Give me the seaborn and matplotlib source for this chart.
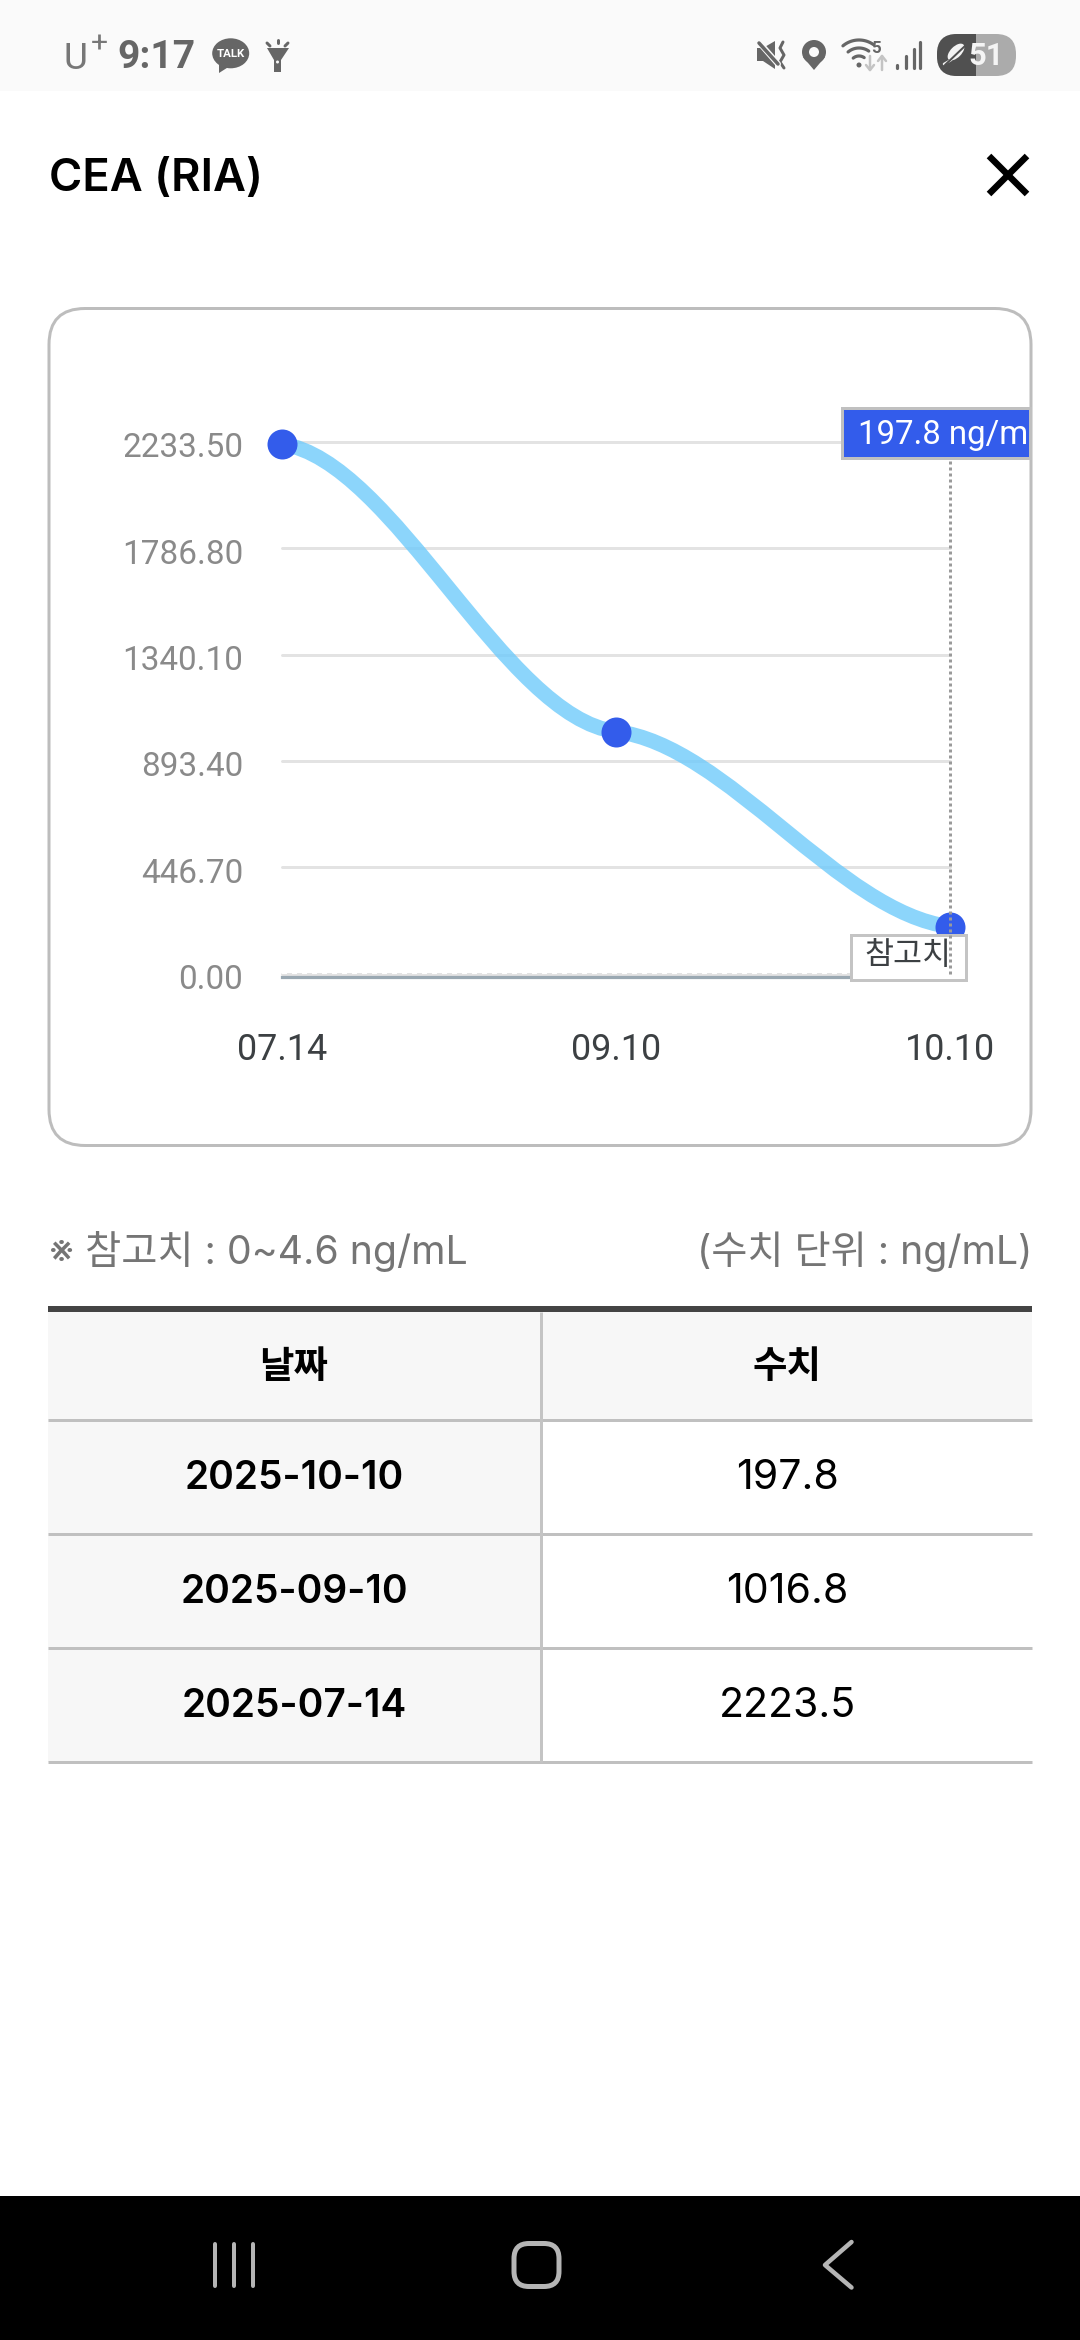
import numpy as np
import pandas as pd
import matplotlib
matplotlib.use('Agg')
import matplotlib.pyplot as plt
import seaborn as sns
from matplotlib.patches import Rectangle, FancyBboxPatch, Ellipse, Polygon, Circle, PathPatch
from matplotlib.path import Path
from matplotlib.transforms import ScaledTranslation

# chart values
dates = ['07.14', '09.10', '10.10']
values = [2223.5, 1016.8, 197.8]
y_ticks = [0.00, 446.70, 893.40, 1340.10, 1786.80, 2233.50]
ref_low = 0
ref_high = 4.6
spline_slopes = [-200, -170, -180]  # value per step at each point

# table
table_header = ['날짜', '수치']
table_dates = ['2025-10-10', '2025-09-10', '2025-07-14']
table_values = ['197.8', '1016.8', '2223.5']

tooltip_text = '197.8 ng/m'
ref_label = '참고치'
note_left = '※ 참고치 : 0~4.6 ng/mL'
note_right = '(수치 단위 : ng/mL)'
title = 'CEA (RIA)'

sns.set_theme(style='white')
plt.rcParams['font.family'] = ['Inter', 'Noto Sans CJK KR', 'DejaVu Sans']
ROBOTO = ['Roboto', 'Noto Sans CJK KR', 'DejaVu Sans']
PX = 0.72

fig = plt.figure(figsize=(10.8, 23.4), dpi=100, facecolor='white')

# page layer, in pixels
ui = fig.add_axes([0, 0, 1, 1], zorder=0)
ui.set_xlim(0, 1080)
ui.set_ylim(2340, 0)
ui.axis('off')


def text(x, y, s, px, color='#000000', weight='normal', ha='left', va='baseline', family=None, zorder=5):
    kw = {'family': family} if family else {}
    return ui.text(x, y, s, fontsize=px * PX, color=color, fontweight=weight, ha=ha, va=va, zorder=zorder, **kw)


def rect(x0, y0, x1, y1, color, zorder=1):
    ui.add_patch(Rectangle((x0, y0), x1 - x0, y1 - y0, facecolor=color, edgecolor='none', zorder=zorder))


def stroke(xs, ys, color, px, cap='round', zorder=3):
    ui.plot(xs, ys, color=color, lw=px * PX, solid_capstyle=cap, solid_joinstyle='round', zorder=zorder)


def arc(cx, cy, r, a0, a1, color, px):
    t = np.radians(np.linspace(a0, a1, 30))
    stroke(cx + r * np.cos(t), cy - r * np.sin(t), color, px)


# status bar
rect(0, 0, 1080, 91, '#fafafa')
GREY = '#666666'
text(64, 69, 'U', 37, '#777777', family=ROBOTO)
text(91, 53, '+', 30, '#777777', family=ROBOTO)
text(117, 68, '9:17', 39, GREY, weight='bold', family=ROBOTO)
ui.add_patch(Ellipse((230.7, 53.3), 37, 30, color=GREY, lw=0, zorder=3))
ui.add_patch(Polygon([(219, 62), (219, 73), (230, 66)], color=GREY, lw=0, zorder=3))
text(230.7, 53.8, 'TALK', 11.5, 'white', weight='bold', ha='center', va='center', family=ROBOTO)
# flashlight
ui.add_patch(Polygon([(267, 48), (289, 48), (281, 60), (281, 72), (274, 72), (274, 60)], color=GREY, lw=0, zorder=3))
ui.add_patch(Circle((277.5, 62), 1.5, color='#fafafa', lw=0, zorder=4))
stroke([277.5, 277.5], [40, 43], GREY, 3)
stroke([267, 270], [43, 46], GREY, 3)
stroke([288, 285], [43, 46], GREY, 3)
# mute
ui.add_patch(Polygon([(757, 48), (763, 48), (775, 41), (775, 69), (763, 61), (757, 61)], color=GREY, lw=0, zorder=3))
stroke([757, 778], [40, 64], '#fafafa', 6, zorder=3.5)
stroke([759, 778], [43, 64], GREY, 3.5, zorder=3.6)
stroke([783, 780, 784, 780, 784], [42, 48, 55, 62, 68], GREY, 3)
# pin
ui.add_patch(Circle((814, 52), 12, color=GREY, lw=0, zorder=3))
ui.add_patch(Polygon([(803, 57), (825, 57), (814, 70)], color=GREY, lw=0, zorder=3))
ui.add_patch(Circle((814, 52), 5, color='#fafafa', lw=0, zorder=4))
# wifi
for r in [9, 17, 25]:
    arc(859, 65, r, 55, 130, GREY, 3.2)
ui.add_patch(Circle((859, 65), 2.5, color=GREY, lw=0, zorder=3))
text(871, 53, '5', 17, GREY, weight='bold', family=ROBOTO)
stroke([870, 870], [56, 70], '#c4c4c4', 2.5)
stroke([866, 870, 874], [65, 70, 65], '#c4c4c4', 2.5)
stroke([882, 882], [56, 70], '#c4c4c4', 2.5)
stroke([878, 882, 886], [61, 56, 61], '#c4c4c4', 2.5)
# signal
for x, top in zip([897, 905.5, 913.5, 920], [65, 56, 49, 42]):
    stroke([x, x], [top, 68], GREY, 3.2)
# battery
ui.add_patch(FancyBboxPatch((937 + 20, 34 + 20), 79 - 40, 42 - 40, boxstyle='round,pad=20', facecolor='#ababab', edgecolor='none', zorder=3))
dark = FancyBboxPatch((937 + 20, 34 + 20), 79 - 40, 42 - 40, boxstyle='round,pad=20', facecolor='#505050', edgecolor='none', zorder=3.1)
ui.add_patch(dark)
dark.set_clip_path(Rectangle((930, 30), 46, 50, transform=ui.transData))
ui.add_patch(Ellipse((956, 52), 21, 11, angle=-45, color='#f2f2f2', lw=0, zorder=4))
stroke([945, 966], [65, 45], '#505050', 2, zorder=4.2)
stroke([944, 951], [64, 60], '#f2f2f2', 2.5, zorder=4.1)
text(986, 65, '51', 31, '#f4f4f4', weight='bold', ha='center', family=ROBOTO)

# header
text(49, 191, title, 45.3, '#000000', weight='semibold')
stroke([989, 1027], [156, 194], 'black', 6.5, cap='butt')
stroke([1027, 989], [156, 194], 'black', 6.5, cap='butt')

# card
ui.add_patch(FancyBboxPatch((49 + 36, 308.5 + 36), 982 - 72, 837 - 72, boxstyle='round,pad=36', facecolor='white', edgecolor='#bdbdbd', lw=3 * PX, zorder=1))

# chart: pixel box of the plot area, scales come from the data
X0, X1, Y_TOP, Y_ZERO = 282, 950, 441.7, 973.7
ax = fig.add_axes([X0 / 1080, 1 - Y_ZERO / 2340, (X1 - X0) / 1080, (Y_ZERO - Y_TOP) / 2340], zorder=1)
ax.patch.set_alpha(0)

df = pd.DataFrame({'date': dates, 'value': values})
sns.lineplot(x=dates, y=[ref_low] * 3, color='#e3e3e3', lw=3 * PX, ax=ax, zorder=1.5)
ref_line = sns.lineplot(x=dates, y=[ref_high] * 3, color='white', lw=2 * PX, ax=ax, zorder=1.6).lines[-1]
ref_line.set_dashes((2.5, 2.5))

# spline through the points, tangents from spline_slopes
pos = np.arange(len(values))
verts = [(pos[0], values[0])]
codes = [Path.MOVETO]
for i in range(len(values) - 1):
    verts += [(pos[i] + 1 / 3, values[i] + spline_slopes[i] / 3),
              (pos[i + 1] - 1 / 3, values[i + 1] - spline_slopes[i + 1] / 3),
              (pos[i + 1], values[i + 1])]
    codes += [Path.CURVE4] * 3
ax.add_patch(PathPatch(Path(verts, codes), facecolor='none', edgecolor='#6fcbfb', alpha=0.8, lw=15 * PX, capstyle='butt', clip_on=False, zorder=2))

sns.scatterplot(data=df, x='date', y='value', color='#335ceb', s=(30 * PX) ** 2, linewidth=0, ax=ax, zorder=3, clip_on=False)

ax.axvline(pos[-1], ymin=0, ymax=1, color='#9a9a9a', lw=3 * PX, dashes=(1, 1), clip_on=False, zorder=6)

ax.set_xlim(pos[0], pos[-1])
ax.set_ylim(y_ticks[0], y_ticks[-1])
ax.set_xticks(pos, dates)
ax.set_yticks(y_ticks, [f'{v:.2f}' for v in y_ticks])
ax.set_xlabel('')
ax.set_ylabel('')
ax.grid(axis='y', color='#e3e3e3', lw=3 * PX)
ax.set_axisbelow(True)
for g in ax.get_ygridlines():
    g.set_clip_on(False)
sns.despine(ax=ax, left=True)
ax.spines['bottom'].set_position(('outward', 3.2 * PX))
ax.spines['bottom'].set_color('#9aa8b2')
ax.spines['bottom'].set_linewidth(3.2 * PX)
ax.tick_params(axis='y', length=0, pad=39 * PX, labelsize=33.3 * PX, labelcolor='#8a8a8a')
ax.tick_params(axis='x', length=0, pad=55 * PX, labelsize=36 * PX, labelcolor='#3c4043')
for lab in ax.get_xticklabels() + ax.get_yticklabels():
    lab.set_family(ROBOTO)
for lab in ax.get_yticklabels():
    lab.set_transform(lab.get_transform() + ScaledTranslation(0, -3 * PX / 72, fig.dpi_scale_trans))

# tooltip and reference label sit in the chart layer, placed in page pixels
ax.add_patch(Rectangle((842, 408), 188, 50, transform=ui.transData, facecolor='#335ceb', edgecolor='#c0c0c0', lw=3 * PX, clip_on=False, zorder=7))
ax.text(858, 444, tooltip_text, transform=ui.transData, fontsize=33 * PX, color='white', family=ROBOTO, zorder=8)
ax.add_patch(Rectangle((850.5, 935), 115, 45, transform=ui.transData, facecolor='white', edgecolor='#c4c4c4', lw=3 * PX, clip_on=False, zorder=5))
ax.text(907.5, 964, ref_label, transform=ui.transData, fontsize=31.5 * PX, color='#3c4043', ha='center', family=ROBOTO, zorder=5.5)

# notes
text(49, 1264, note_left, 39.3, '#757575')
text(1032, 1264, note_right, 39.3, '#757575', ha='right')

# table
T_L, T_M, T_R = 48, 541, 1032
rows = [1312, 1419.5, 1533.5, 1648, 1761.5]
rect(T_L, 1312, T_M, rows[-1], '#f7f7f7')
rect(T_M, 1312, T_R, rows[1], '#f7f7f7')
rect(T_L, 1306, T_R, 1312, '#444444', zorder=2)
for y in rows[1:]:
    stroke([T_L, T_R], [y, y], '#c0c0c0', 3, cap='butt', zorder=2)
stroke([T_M, T_M], [1312, rows[-1]], '#c4c4c4', 3, cap='butt', zorder=2)
text(294, 1368, table_header[0], 37.5, weight='semibold', ha='center', va='center')
text(787, 1368, table_header[1], 37.5, weight='semibold', ha='center', va='center')
for i, (d, v) in enumerate(zip(table_dates, table_values)):
    base = 1489 + 114 * i
    text(294, base, d, 38.8, weight='semibold', ha='center')
    text(787, base, v, 41, ha='center')

# navigation bar
rect(0, 2196, 1080, 2340, '#000000')
for x in [215, 233.7, 252.5]:
    stroke([x, x], [2244, 2286], '#b5b5b5', 4, zorder=3)
ui.add_patch(FancyBboxPatch((514 + 15, 2243.5 + 15), 45 - 30, 43 - 30, boxstyle='round,pad=15', facecolor='none', edgecolor='#b5b5b5', lw=5 * PX, zorder=3))
stroke([851.5, 825, 851.5], [2242, 2265, 2287.5], '#b5b5b5', 4.5, zorder=3)

fig.savefig('out.png', dpi=100)
